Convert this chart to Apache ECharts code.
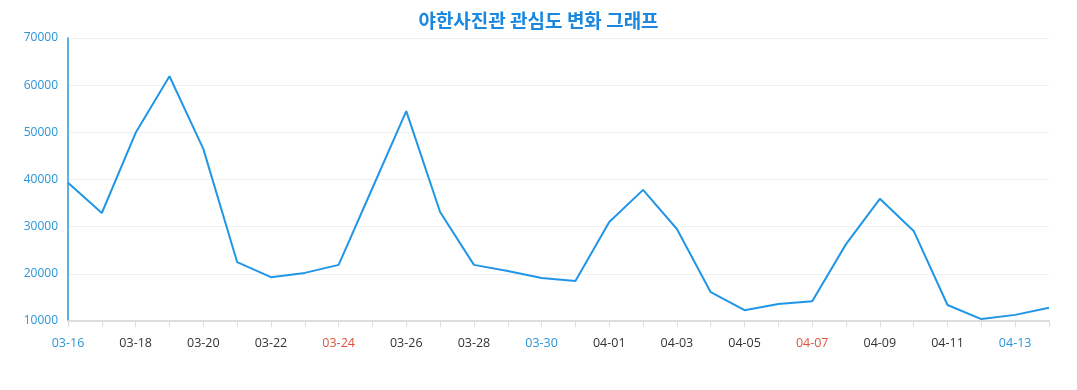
<!DOCTYPE html>
<html><head><meta charset="utf-8">
<script src="https://cdn.jsdelivr.net/npm/echarts@6/dist/echarts.min.js"></script>
<style>html,body{margin:0;padding:0;background:#fff}#c{width:1077px;height:390px}</style>
</head><body><div id="c"></div>
<script>
const title = '야한사진관 관심도 변화 그래프';
const dates = ['03-16','03-17','03-18','03-19','03-20','03-21','03-22','03-23','03-24','03-25','03-26','03-27','03-28','03-29','03-30','03-31','04-01','04-02','04-03','04-04','04-05','04-06','04-07','04-08','04-09','04-10','04-11','04-12','04-13','04-14'];
const values = [39300,32900,49900,61900,46500,22500,19300,20200,21900,38200,54500,33100,21900,20600,19100,18500,31000,37800,29500,16100,12300,13600,14200,26300,35900,29100,13400,10400,11300,12800];
const saturdays = ['03-16','03-23','03-30','04-06','04-13'];
const sundays = ['03-17','03-24','03-31','04-07','04-14'];

const chart = echarts.init(document.getElementById('c'));
const font = '"Open Sans", "Noto Sans", "Noto Sans CJK KR", sans-serif';
chart.setOption({
  animation: false,
  title: { text: title, left: 'center', top: 6,
    textStyle: { color: '#1a88e0', fontSize: 19, fontWeight: 'bold', fontFamily: '"Noto Sans CJK KR", sans-serif' } },
  grid: { left: 68, right: 28, top: 38, bottom: 69 },
  xAxis: {
    type: 'category', data: dates, boundaryGap: false,
    axisLine: { lineStyle: { color: '#dddddd', width: 2 } },
    axisTick: { show: true, interval: 0, length: 6, lineStyle: { color: '#dddddd' } },
    axisLabel: { interval: 1, margin: 16, fontSize: 12.5, fontFamily: font,
      formatter: v => saturdays.includes(v) ? '{sat|' + v + '}' : (sundays.includes(v) ? '{sun|' + v + '}' : '{d|' + v + '}'),
      rich: { sat: { color: '#2a95d8', fontSize: 12.5, fontFamily: font },
              sun: { color: '#e0533a', fontSize: 12.5, fontFamily: font },
              d: { color: '#333333', fontSize: 12.5, fontFamily: font } } }
  },
  yAxis: {
    type: 'value', min: 10000, max: 70000, interval: 10000,
    axisLine: { show: true, lineStyle: { color: '#2a95d8', width: 1.5 } },
    axisTick: { show: false },
    axisLabel: { color: '#2a95d8', fontSize: 12, fontFamily: font, margin: 10, formatter: v => String(v) },
    splitLine: { lineStyle: { color: '#f0f0f0' } }
  },
  series: [{ type: 'line', data: values, showSymbol: false, symbol: 'none',
    lineStyle: { color: '#2196e6', width: 2 } }]
});
</script></body></html>
